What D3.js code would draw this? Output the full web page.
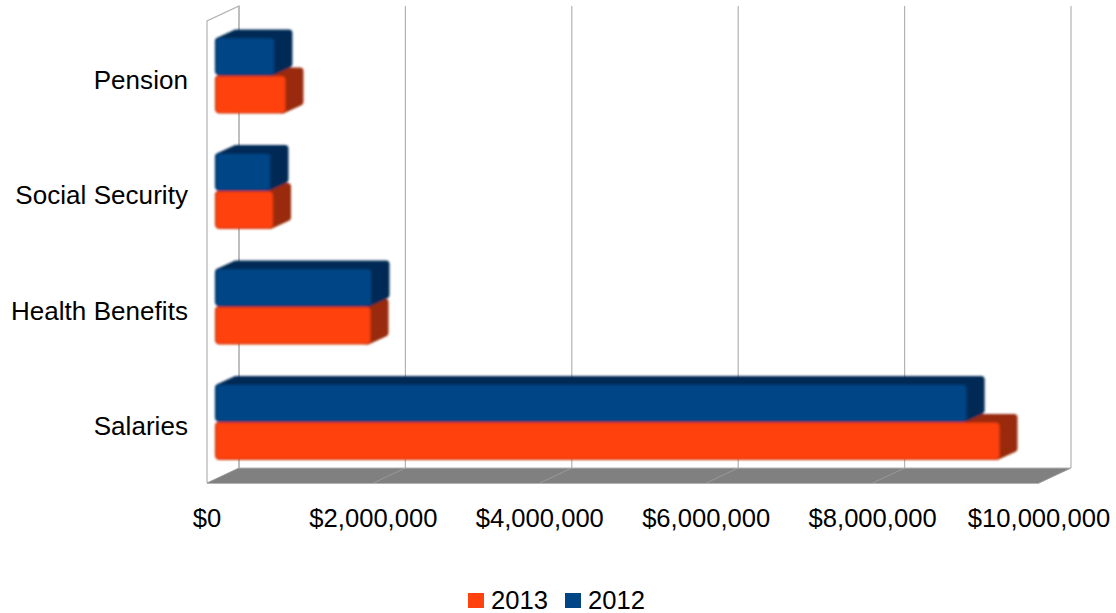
<!DOCTYPE html>
<html>
<head>
<meta charset="utf-8">
<script src="https://cdn.jsdelivr.net/npm/d3@7"></script>
<style>
  html, body { margin: 0; padding: 0; background: #fff; }
  text { font-family: "Liberation Sans", Arial, sans-serif; fill: #000; }
</style>
</head>
<body>
<svg id="chart" width="1116" height="613"></svg>
<script>
const categories = ["Pension", "Social Security", "Health Benefits", "Salaries"];
const seriesNames = ["2013", "2012"];
const values2013 = [853000, 703000, 1875000, 9435000];
const values2012 = [720000, 673000, 1887000, 9040000];
const tickValues = [0, 2000000, 4000000, 6000000, 8000000, 10000000];

const palette = {
  "2013": { face: "#ff420e", side: "#992c07", edge: "#d03608" },
  "2012": { face: "#004586", side: "#002c55", edge: "#003568" }
};

const svg = d3.select("#chart");

// Oblique projection: front plane, plus a depth offset towards the upper right.
const frontX = d3.scaleLinear().domain([0, 10000000]).range([207, 1039]);
const depthX = 32, depthY = 15;
const floorY = 483, topY = 21;

const band = d3.scaleBand().domain(categories).range([topY, floorY]);
const inner = d3.scaleBand().domain(["2012", "2013"]).range([0, 76]);

const soft = svg.append("defs").append("filter").attr("id", "soft")
  .attr("x", "-5%").attr("y", "-10%").attr("width", "110%").attr("height", "120%");
soft.append("feGaussianBlur").attr("stdDeviation", 0.8);

// Left wall and back wall outline
const wallStroke = "#b3b3b3";
svg.append("path")
  .attr("d", `M${frontX(0)},${floorY} V${topY} L${frontX(0) + depthX},${topY - depthY} V${floorY - depthY}`)
  .attr("fill", "none").attr("stroke", wallStroke).attr("stroke-width", 1.2);

// Floor
svg.append("path")
  .attr("d", `M${frontX(0)},${floorY} H${frontX(10000000)} l${depthX},${-depthY} H${frontX(0) + depthX} Z`)
  .attr("fill", "#808080");

// Value gridlines on the back wall and their traces across the floor
svg.append("g").selectAll("line").data(tickValues).join("line")
  .attr("x1", d => frontX(d) + depthX).attr("x2", d => frontX(d) + depthX)
  .attr("y1", topY - depthY).attr("y2", floorY - depthY)
  .attr("stroke", wallStroke).attr("stroke-width", 1.2);
svg.append("g").selectAll("line").data(tickValues).join("line")
  .attr("x1", d => frontX(d)).attr("x2", d => frontX(d) + depthX)
  .attr("y1", floorY).attr("y2", floorY - depthY)
  .attr("stroke", "#999999").attr("stroke-width", 1);
svg.append("line")
  .attr("x1", frontX(0)).attr("x2", frontX(10000000))
  .attr("y1", floorY + 0.5).attr("y2", floorY + 0.5)
  .attr("stroke", wallStroke).attr("stroke-width", 1);
svg.append("line")
  .attr("x1", frontX(0) + depthX).attr("x2", frontX(10000000) + depthX)
  .attr("y1", floorY - depthY).attr("y2", floorY - depthY)
  .attr("stroke", wallStroke).attr("stroke-width", 1);

// Extruded bars, starting a little in front of the back wall.
// The 2013 bar of each pair is painted first so the 2012 bar sits over its top.
const barDX = 17.5, barDY = 8, barStart = 8, barInset = 16.5, corner = 3.5;
const rows = [];
categories.forEach((c, i) => {
  rows.push({ category: c, series: "2013", value: values2013[i] });
  rows.push({ category: c, series: "2012", value: values2012[i] });
});
const barLeft = () => frontX(0) + barStart;
const barRight = d => frontX(d.value) + barStart;
const barY = d => band(d.category) + barInset + inner(d.series);
const barH = inner.bandwidth();

const bars = svg.append("g").attr("filter", "url(#soft)").selectAll("g").data(rows).join("g");

// Top and side faces: an inset outline whose round stroke gives soft corners
bars.append("path").attr("d", d => {
    const x0 = barLeft() + corner, x1 = barRight(d) - corner;
    const y0 = barY(d) + corner, y1 = barY(d) + barH - corner;
    return `M${x0},${y0} L${x0 + barDX},${y0 - barDY} H${x1 + barDX} V${y1 - barDY} L${x1},${y1} Z`;
  })
  .attr("fill", d => palette[d.series].side)
  .attr("stroke", d => palette[d.series].side)
  .attr("stroke-width", corner * 2).attr("stroke-linejoin", "round");

// Front face
bars.append("rect")
  .attr("x", d => barLeft() + 0.6).attr("y", d => barY(d) + 0.6)
  .attr("width", d => barRight(d) - barLeft() - 1.2).attr("height", barH - 1.2)
  .attr("rx", 4)
  .attr("fill", d => palette[d.series].face)
  .attr("stroke", d => palette[d.series].edge).attr("stroke-width", 1.4);

// Category labels
svg.append("g").selectAll("text").data(categories).join("text")
  .attr("x", 188).attr("y", d => band(d) + band.bandwidth() / 2 + 10)
  .attr("text-anchor", "end").attr("font-size", 26).attr("letter-spacing", 0.05)
  .text(d => d);

// Value axis labels
svg.append("g").selectAll("text").data(tickValues).join("text")
  .attr("x", d => frontX(d)).attr("y", 527)
  .attr("text-anchor", "middle").attr("font-size", 25.6)
  .text(d3.format("$,.0f"));

// Legend
const legendItems = [{ name: "2013", x: 468, tx: 491 }, { name: "2012", x: 565, tx: 588 }];
const legend = svg.append("g");
legend.selectAll("rect").data(legendItems).join("rect")
  .attr("x", d => d.x).attr("y", 593).attr("width", 16).attr("height", 15)
  .attr("fill", d => palette[d.name].face);
legend.selectAll("text").data(legendItems).join("text")
  .attr("x", d => d.tx).attr("y", 609).attr("font-size", 25.6)
  .text(d => d.name);
</script>
</body>
</html>
